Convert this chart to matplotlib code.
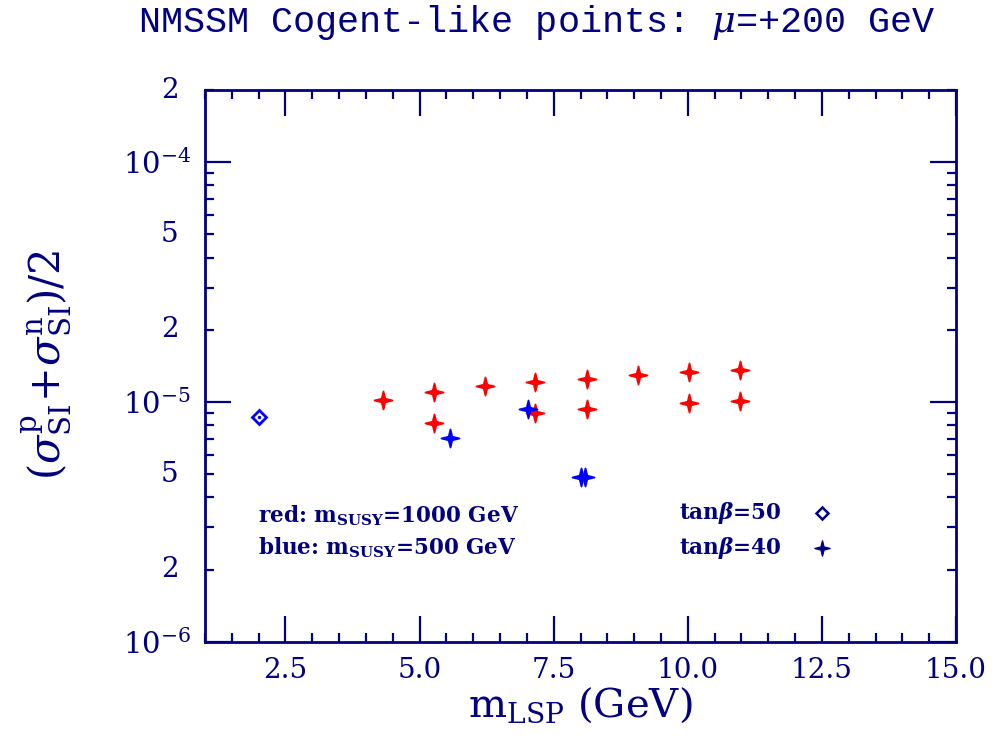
import matplotlib.pyplot as plt
import numpy as np
from matplotlib.path import Path
from matplotlib.ticker import FixedLocator, NullFormatter

# red: m_SUSY = 1000 GeV, tan(beta) = 40
red_m = [4.32, 5.27, 5.27, 6.22, 7.16, 7.16, 8.12, 8.12, 9.07, 10.02, 10.02, 10.97, 10.97]
red_sig = [1.02e-5, 1.10e-5, 8.17e-6, 1.16e-5, 1.21e-5, 8.99e-6, 1.25e-5, 9.31e-6,
           1.29e-5, 1.33e-5, 9.87e-6, 1.36e-5, 1.01e-5]

# blue: m_SUSY = 500 GeV, tan(beta) = 40
blue_m = [5.57, 7.03, 8.00, 8.08]
blue_sig = [7.07e-6, 9.34e-6, 4.88e-6, 4.88e-6]

# blue: m_SUSY = 500 GeV, tan(beta) = 50
diam_m = [2.0]
diam_sig = [8.67e-6]

navy = '#000080'
plt.rcParams['mathtext.fontset'] = 'dejavuserif'
plt.rcParams['font.family'] = 'DejaVu Serif'

# slim four-pointed star
ang = np.arange(8) * np.pi / 4 + np.pi / 2
rad = np.where(np.arange(8) % 2 == 0, 1.0, 0.28)
verts = np.column_stack([rad * np.cos(ang), rad * np.sin(ang)])
star = Path(np.vstack([verts, verts[:1]]), closed=True)

fig = plt.figure(figsize=(10.08, 7.49), dpi=100)
ax = fig.add_axes([0.2034, 0.1433, 0.745, 0.7365])

ax.plot(red_m, red_sig, ls='none', marker=star, ms=13, color='red', mew=1.3)
ax.plot(blue_m, blue_sig, ls='none', marker=star, ms=13, color='blue', mew=1.3)
ax.plot(diam_m, diam_sig, ls='none', marker='D', ms=7, mfc='none', mec='blue', mew=2)
ax.plot(diam_m, diam_sig, ls='none', marker='o', ms=1.5, color='blue')

ax.set_xlim(1, 15)
ax.set_yscale('log')
ax.set_ylim(1e-6, 2e-4)

ax.xaxis.set_major_locator(FixedLocator(np.arange(2.5, 15.01, 2.5)))
ax.xaxis.set_minor_locator(FixedLocator(np.arange(1.0, 15.01, 0.5)))
ax.set_xticklabels(['2.5', '5.0', '7.5', '10.0', '12.5', '15.0'])

ax.yaxis.set_major_locator(FixedLocator([1e-6, 1e-5, 1e-4]))
ax.set_yticklabels([r'$10^{-6}$', r'$10^{-5}$', r'$10^{-4}$'])
minors = [k * 10.0 ** e for e in (-6, -5, -4) for k in range(2, 10)]
ax.yaxis.set_minor_locator(FixedLocator(minors))
ax.yaxis.set_minor_formatter(NullFormatter())

# labelled minor ticks 2 and 5
for v, s in [(2e-6, '2'), (5e-6, '5'), (2e-5, '2'), (5e-5, '5'), (2e-4, '2')]:
    ax.text(-0.035, v, s, transform=ax.get_yaxis_transform(), ha='right', va='center',
            fontsize=20, color=navy)

ax.tick_params(which='both', direction='in', top=True, right=True, colors=navy,
               labelsize=20, width=1.6)
ax.tick_params(which='major', length=19, pad=11)
ax.tick_params(which='minor', length=6.5)
ax.tick_params(axis='y', which='major', pad=10, labelsize=21)
for sp in ax.spines.values():
    sp.set_color(navy)
    sp.set_linewidth(2)

ax.set_xlabel(r'$\mathrm{m_{LSP}}$ (GeV)', fontsize=29, color=navy, labelpad=1)
fig.text(0.046, 0.513, r'$(\sigma^{\rm p}_{\rm SI}\!+\!\sigma^{\rm n}_{\rm SI})/2$',
         rotation=90, ha='center', va='center', fontsize=30, color=navy)
fig.text(0.533, 0.970, r'NMSSM Cogent-like points: $\mu$=+200 GeV', ha='center',
         va='center', fontsize=26.5, color=navy, family='Liberation Mono')

# legend text
lg = dict(transform=ax.transAxes, fontsize=15.5, fontweight='bold', color=navy, va='center')
ax.text(0.0706, 0.228, r'red: $\mathbf{m_{SUSY}}$=1000 GeV', **lg)
ax.text(0.0706, 0.170, r'blue: $\mathbf{m_{SUSY}}$=500 GeV', **lg)
ax.text(0.768, 0.233, r'tan$\boldsymbol{\beta}$=50', ha='right', **lg)
ax.text(0.768, 0.170, r'tan$\boldsymbol{\beta}$=40', ha='right', **lg)
ax.plot([0.8216], [0.233], transform=ax.transAxes, ls='none', marker='D', ms=6,
        mfc='none', mec=navy, mew=1.8)
ax.plot([0.8216], [0.170], transform=ax.transAxes, ls='none', marker=star, ms=11,
        color=navy)

fig.savefig('out.png', dpi=100)
